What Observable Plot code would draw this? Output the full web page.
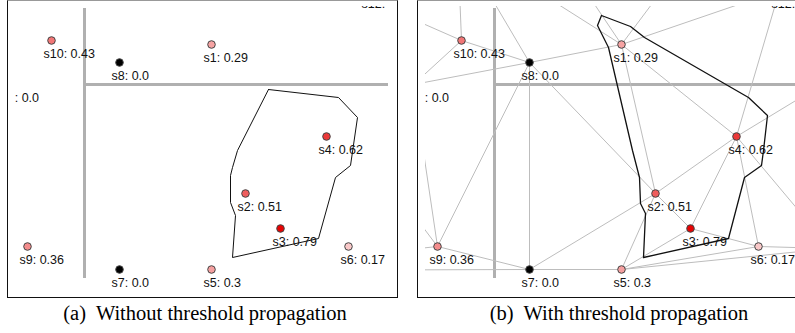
<!DOCTYPE html>
<html><head><meta charset="utf-8">
<script src="https://cdn.jsdelivr.net/npm/d3@7"></script>
<script src="https://cdn.jsdelivr.net/npm/@observablehq/plot@0.6"></script>
<style>
html,body{margin:0;padding:0;background:#fff;overflow:hidden;width:795px;height:333px;}
.frame{position:absolute;top:0;height:298px;box-sizing:border-box;border:1px solid #111;border-top-color:#999;overflow:hidden;background:#fff;}
.view{position:absolute;left:7px;top:5px;}
.view svg{overflow:hidden;display:block;}
.cap{position:absolute;top:302px;font-family:"Liberation Serif","Times New Roman",serif;font-size:20.5px;white-space:nowrap;transform:translateX(-50%);color:#000;}
</style></head><body>
<div id="fa" class="frame" style="left:7px;width:391px"><div class="view" id="va"></div></div>
<div id="fb" class="frame" style="left:417px;width:391px"><div class="view" id="vb"></div></div>
<div class="cap" style="left:205px">(a)&nbsp; Without threshold propagation</div>
<div class="cap" style="left:619px">(b)&nbsp; With threshold propagation</div>
<script>
// sensor sites (positions, panel pixel units)
const siteNames = ["s1","s2","s3","s4","s5","s6","s7","s8","s9","s10","s11","s12"];
const siteX = [211,245,280,326,211,348,119,119,27,51,3,369];
const siteY = [44,193,228,136,269,246,269,62,246,40,84,-10];
const siteValue = [0.29,0.51,0.79,0.62,0.3,0.17,0.0,0.0,0.36,0.43,0.0,0.0];
// unlabeled neighbours lying outside the visible window
const ghostNames = ["g1","g2","g3","g4","g5","g6","g7","g8"];
const ghostX = [47,-40,-30,-200,160,262,420,420];
const ghostY = [-60,0,170,270,-32,-24,79,248];
// triangulation edges (panel b)
const edgeFrom = ["s8","s8","s8","s8","s8","s8","s8","s10","s10","s10","s9","s9","s9","s9","s7","s7","s7","s1","s1","s1","s1","s1","s1","s2","s2","s2","s3","s3","s3","s4","s4","s4","s4","s5","s5","s6"];
const edgeTo   = ["s10","s11","g1","s1","s2","s9","s7","g2","s11","g1","s11","g3","g4","s7","s2","s5","g4","g1","g5","g6","s12","s2","s4","s5","s3","s4","s4","s5","s6","s12","g7","g8","s6","s6","g8","g8"];
// threshold contour polygons
const polyAX = [268,338,357,350,335,318,232,235,230,230,232,237];
const polyAY = [89,97,117,165,177,238,257,215,202,175,167,150];
const polyBX = [191,220,234,338,357,353,351,334,318,233,235,230,229,222,198,187];
const polyBY = [15,26,37,97,115,150,165,177,238,257,213,203,177,150,47,25];
// grey cross
const crossX = 84, crossY = 84, crossTop = 8, crossBottom = 278, crossRight = 400;

const view = {x0: 15, x1: 388, y0: 6, y1: 290};
const fmt = v => Number.isInteger(v) ? v.toFixed(1) : String(v);
const sites = siteNames.map((n, i) => ({name: n, x: siteX[i], y: siteY[i], v: siteValue[i], label: n + ": " + fmt(siteValue[i])}));
const pos = new Map(sites.map(d => [d.name, d]));
ghostNames.forEach((n, i) => pos.set(n, {x: ghostX[i], y: ghostY[i]}));
const edges = edgeFrom.map((a, i) => ({a: pos.get(a), b: pos.get(edgeTo[i])}));
const ring = (xs, ys) => xs.concat([xs[0]]).map((x, i) => ({x, y: ys.concat([ys[0]])[i]}));
const shade = d3.scaleLinear().domain([0, 0.001, 0.8]).range(["#000000", "#ffffff", "#e60000"]).clamp(true);
const font = "'Liberation Sans', Arial, sans-serif";

function panel(withEdges, poly, polyWidth) {
  const W = view.x1 - view.x0, H = view.y1 - view.y0;
  const marks = [
    Plot.ruleX([crossX], {y1: crossTop, y2: crossBottom, stroke: "#b0b0b0", strokeWidth: 3, clip: true}),
    Plot.ruleY([crossY], {x1: crossX, x2: crossRight, stroke: "#b0b0b0", strokeWidth: 3, clip: true})
  ];
  if (withEdges) marks.push(Plot.link(edges, {x1: d => d.a.x, y1: d => d.a.y, x2: d => d.b.x, y2: d => d.b.y, stroke: "#bdbdbd", strokeWidth: 1, clip: true}));
  marks.push(
    Plot.line(poly, {x: "x", y: "y", stroke: "#111", strokeWidth: polyWidth, curve: "linear", clip: true}),
    Plot.dot(sites, {x: "x", y: "y", r: 3.8, fill: d => shade(d.v), stroke: "#444", strokeWidth: 1, clip: true}),
    Plot.text(sites, {x: "x", y: "y", text: "label", dx: -8, dy: 13, textAnchor: "start", fontSize: 12.5, fontFamily: font, fill: "#111", clip: true})
  );
  return Plot.plot({
    width: W, height: H,
    margin: 0, marginTop: 0, marginRight: 0, marginBottom: 0, marginLeft: 0,
    x: {domain: [view.x0, view.x1], range: [0, W], axis: null},
    y: {domain: [view.y0, view.y1], range: [0, H], axis: null},
    color: {type: "identity"},
    style: {fontFamily: font, background: "transparent", overflow: "hidden"},
    marks
  });
}
document.getElementById("va").appendChild(panel(false, ring(polyAX, polyAY), 1));
document.getElementById("vb").appendChild(panel(true, ring(polyBX, polyBY), 1.3));
</script>
</body></html>
